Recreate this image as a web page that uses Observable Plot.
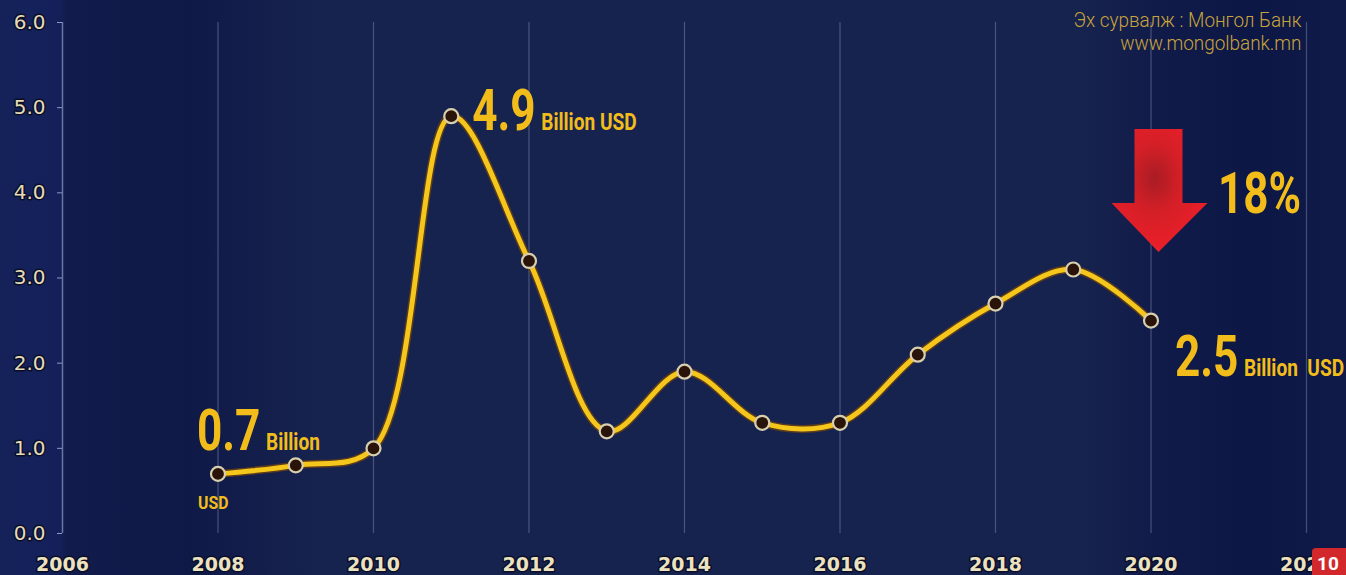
<!DOCTYPE html>
<html>
<head>
<meta charset="utf-8">
<script src="https://cdn.jsdelivr.net/npm/d3@7"></script>
<script src="https://cdn.jsdelivr.net/npm/@observablehq/plot@0.6"></script>
<style>
  html, body { margin: 0; padding: 0; overflow: hidden; background: #131d4a; }
  #wrap { position: relative; width: 1346px; height: 575px; }
  #badge { position: absolute; left: 1312px; top: 548px; width: 40px; height: 30px;
    background: #d3282b; color: #fff; font: bold 19px Roboto, sans-serif;
    border-radius: 4px 0 0 0; padding-left: 5px; box-sizing: border-box; line-height: 32px; }
</style>
</head>
<body>
<div id="wrap"><div id="badge">10</div></div>
<script>
const ANN_FONT = "Roboto, 'Noto Sans', sans-serif";
const AXIS_FONT = "'DejaVu Sans', sans-serif";

// Data (billion USD)
const years  = [2008, 2009, 2010, 2011, 2012, 2013, 2014, 2015, 2016, 2017, 2018, 2019, 2020];
const values = [0.7, 0.8, 1.0, 4.9, 3.2, 1.2, 1.9, 1.3, 1.3, 2.1, 2.7, 3.1, 2.5];
const xTicks = [2006, 2008, 2010, 2012, 2014, 2016, 2018, 2020, 2022];
const yTicks = [0, 1, 2, 3, 4, 5, 6];
const sourceLines = ["Эх сурвалж : Монгол Банк", "www.mongolbank.mn"];

const series = years.map((year, i) => ({year, value: values[i]}));

// Callout labels anchored to data points (offsets in px)
const bigLabels = [
  {year: 2008, value: 0.7, text: "0.7", dx: -21, dy: -24},
  {year: 2011, value: 4.9, text: "4.9", dx: 21, dy: 14},
  {year: 2020, value: 2.5, text: "2.5", dx: 24, dy: 55},
  {year: 2020, value: 2.5, text: "18%", dx: 67, dy: -108}
];
const smallLabels = [
  {year: 2008, value: 0.7, text: "Billion", dx: 48, dy: -24, size: 23},
  {year: 2008, value: 0.7, text: "USD", dx: -20, dy: 35, size: 19},
  {year: 2011, value: 4.9, text: "Billion USD", dx: 90, dy: 14, size: 23},
  {year: 2020, value: 2.5, text: "Billion\u00a0 USD", dx: 93, dy: 55, size: 23}
];
const arrowAnchor = {year: 2020, value: 2.5};

function arrowMark(index, scales) {
  const cx = scales.x(arrowAnchor.year), cy = scales.y(arrowAnchor.value);
  const ns = "http://www.w3.org/2000/svg";
  const g = document.createElementNS(ns, "g");
  const defs = document.createElementNS(ns, "defs");
  defs.innerHTML = `<radialGradient id="arrowGrad" cx="0.45" cy="0.4" r="0.6">
      <stop offset="0" stop-color="#a91c24"/><stop offset="0.45" stop-color="#d41f27"/><stop offset="1" stop-color="#ec1f29"/></radialGradient>`;
  g.appendChild(defs);
  const p = document.createElementNS(ns, "path");
  const pts = [[-16,-191],[32,-191],[32,-117],[57,-117],[8,-68],[-39,-117],[-16,-117]];
  p.setAttribute("d", "M" + pts.map(([a,b]) => `${cx+a},${cy+b}`).join("L") + "Z");
  p.setAttribute("fill", "url(#arrowGrad)");
  g.appendChild(p);
  return g;
}

const chart = Plot.plot({
  width: 1346,
  height: 575,
  marginLeft: 62,
  marginRight: 40,
  marginTop: 22,
  marginBottom: 42,
  style: {
    background: "linear-gradient(90deg, #15225a 0%, #14205a 4.4%, #111c4c 5%, #0f1947 14%, #111b49 16%, #17234f 24%, #17234f 80%, #111b49 86%, #0c1745 93%, #0f1a48 100%)",
    fontFamily: AXIS_FONT,
    overflow: "visible"
  },
  x: {domain: [2006, 2022], ticks: xTicks, tickFormat: d => String(d), label: null},
  y: {domain: [0, 6], ticks: yTicks, tickFormat: d => d.toFixed(1), label: null},
  marks: [
    Plot.ruleX(xTicks.slice(1), {y1: 0, y2: 6, stroke: "#a8b2d8", strokeOpacity: 0.35, strokeWidth: 1.2}),
    Plot.ruleX([2006], {y1: 0, y2: 6, stroke: "#8d9ac8", strokeOpacity: 0.7, strokeWidth: 1.5}),
    Plot.axisX({ticks: xTicks, tickFormat: d => String(d), tickSize: 0, tickPadding: 24, fontSize: 19, fontWeight: "bold",
      fill: "#ece2bf", textStroke: "#0a0e28", textStrokeWidth: 3, label: null}),
    Plot.axisY({ticks: yTicks, tickFormat: d => d.toFixed(1), tickSize: 5, tickPadding: 12, fontSize: 20,
      stroke: "#8d9ac8", fill: "#e4dcb8", textStroke: "#0a0e28", textStrokeWidth: 3, label: null}),
    Plot.line(series, {x: "year", y: "value", curve: "catmull-rom", stroke: "#6b4210", strokeWidth: 8, strokeOpacity: 0.8}),
    Plot.line(series, {x: "year", y: "value", curve: "catmull-rom", stroke: "#f5c71c", strokeWidth: 5}),
    Plot.dot(series, {x: "year", y: "value", r: 7, fill: "#2a140a", stroke: "#d8cfae", strokeWidth: 2.2}),
    arrowMark,
    ...bigLabels.map(d => Plot.text([d], {x: "year", y: "value", text: "text", dx: d.dx, dy: d.dy, textAnchor: "start", lineAnchor: "bottom",
      fontFamily: ANN_FONT, fontSize: 58, fontWeight: "bold", fill: "#f2bd1a"})),
    ...smallLabels.map(d => Plot.text([d], {x: "year", y: "value", text: "text", dx: d.dx, dy: d.dy, textAnchor: "start", lineAnchor: "bottom",
      fontFamily: ANN_FONT, fontSize: d.size, fontWeight: "bold", fill: "#f2bd1a"})),
    Plot.text([sourceLines[0]], {frameAnchor: "top-right", dx: -5, dy: 4, lineAnchor: "bottom", textAnchor: "end",
      fontFamily: ANN_FONT, fontSize: 21, fontWeight: 300, fill: "#c9a43c"}),
    Plot.text([sourceLines[1]], {frameAnchor: "top-right", dx: -5, dy: 27, lineAnchor: "bottom", textAnchor: "end",
      fontFamily: ANN_FONT, fontSize: 21, fontWeight: 300, fill: "#c9a43c"})
  ]
});
document.getElementById("wrap").prepend(chart);

// Condensed look (reference uses a condensed typeface)
const condense = new Map([
  ...bigLabels.map(d => [d.text, 0.76]),
  ...smallLabels.map(d => [d.text, 0.83]),
  ...sourceLines.map(s => [s, 0.9])
]);
for (const t of chart.querySelectorAll("text")) {
  const f = condense.get(t.textContent);
  if (f) {
    t.setAttribute("textLength", (t.getComputedTextLength() * f).toFixed(1));
    t.setAttribute("lengthAdjust", "spacingAndGlyphs");
  }
}
</script>
</body>
</html>
